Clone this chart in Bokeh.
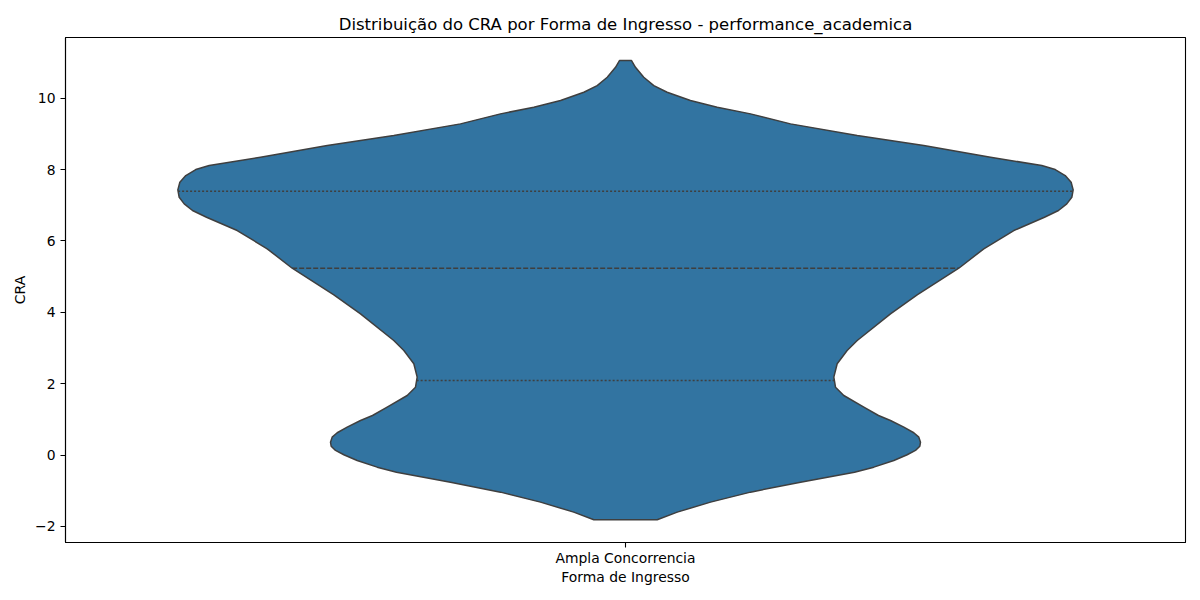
import numpy as np
from bokeh.plotting import figure
from bokeh.models import FixedTicker, Range1d
from bokeh.embed import file_html
from bokeh.resources import INLINE

# ---- data ----
categories = ["Ampla Concorrencia"]

# KDE profile of CRA: value on the y grid and the violin half-width at that value
cra_grid = [11.053, 10.866, 10.585, 10.353, 10.165, 9.933, 9.745, 9.560, 9.280,
            8.952, 8.672, 8.345, 8.112, 8.000, 7.832, 7.644, 7.431, 7.224, 7.039,
            6.852, 6.664, 6.291, 5.779, 5.235, 4.490, 3.958, 3.210, 2.930, 2.557,
            2.182, 1.902, 1.669, 1.342, 1.109, 0.969, 0.782, 0.625, 0.501, 0.361,
            0.249, 0.129, 0.008, -0.151, -0.339, -0.479, -0.759, -1.039, -1.319,
            -1.599, -1.812]
density_halfwidth = [0.0054, 0.0089, 0.0163, 0.0253, 0.0372, 0.0580, 0.0819, 0.1116,
                     0.1473, 0.2069, 0.2663, 0.3259, 0.3717, 0.3837, 0.3926, 0.3979,
                     0.3997, 0.3985, 0.3940, 0.3866, 0.3741, 0.3467, 0.3199, 0.2976,
                     0.2604, 0.2366, 0.2069, 0.1979, 0.1890, 0.1860, 0.1875, 0.1949,
                     0.2128, 0.2259, 0.2366, 0.2485, 0.2574, 0.2619, 0.2634, 0.2628,
                     0.2589, 0.2515, 0.2396, 0.2217, 0.2045, 0.1563, 0.1116, 0.0759,
                     0.0462, 0.0283]

quartiles = [2.09, 5.235, 7.39]   # Q1, median, Q3
y_ticks = [-2, 0, 2, 4, 6, 8, 10]

FONT = "DejaVu Sans"

p = figure(width=1200, height=600, output_backend="svg", toolbar_location=None,
           x_range=Range1d(-0.5, 0.5), y_range=Range1d(-2.45, 11.70),
           min_border_left=65, min_border_right=15, min_border_top=37, min_border_bottom=58,
           title="Distribuição do CRA por Forma de Ingresso - performance_academica")

p.title.text_font = FONT
p.title.text_font_size = "16.5px"
p.title.text_font_style = "normal"
p.title.text_color = "black"
p.title.align = "center"
p.title.standoff = 8

p.xgrid.visible = False
p.ygrid.visible = False
p.outline_line_color = "black"
p.outline_line_width = 1.1
p.background_fill_color = "white"
p.border_fill_color = "white"

# violin for each category
for i, cat in enumerate(categories):
    ys = np.array(cra_grid)
    hw = np.array(density_halfwidth)
    xs = np.concatenate([i + hw, (i - hw)[::-1]])
    yy = np.concatenate([ys, ys[::-1]])
    p.patch(xs, yy, fill_color="#3274a1", line_color="#3f3f3f", line_width=1.5,
            line_join="round")

    order = np.argsort(ys)
    for k, q in enumerate(quartiles):
        w = float(np.interp(q, ys[order], hw[order]))
        dash = "5 2" if k == 1 else "2 2"
        p.line([i - w, i + w], [q, q], line_color="#3f3f3f", line_width=1.5, line_dash=dash)

# axes
p.xaxis.ticker = FixedTicker(ticks=list(range(len(categories))))
p.xaxis.major_label_overrides = {i: c for i, c in enumerate(categories)}
p.yaxis.ticker = FixedTicker(ticks=y_ticks)
p.yaxis.major_label_overrides = {t: (str(t).replace("-", "\u2212")) for t in y_ticks}

p.xaxis.axis_label = "Forma de Ingresso"
p.yaxis.axis_label = "CRA"

for ax in (p.xaxis[0], p.yaxis[0]):
    ax.axis_line_color = "black"
    ax.axis_line_width = 1.1
    ax.major_tick_line_color = "black"
    ax.major_tick_line_width = 1.1
    ax.major_tick_out = 5
    ax.major_tick_in = 0
    ax.minor_tick_out = 0
    ax.minor_tick_in = 0
    ax.major_label_text_font = FONT
    ax.major_label_text_font_size = "13.9px"
    ax.major_label_text_color = "black"
    ax.axis_label_text_font = FONT
    ax.axis_label_text_font_size = "13.9px"
    ax.axis_label_text_font_style = "normal"
    ax.axis_label_text_color = "black"

p.xaxis.major_label_standoff = 2
p.xaxis.axis_label_standoff = 0
p.yaxis.major_label_standoff = 5
p.yaxis.axis_label_standoff = 4

open("out.html", "w").write(file_html(p, INLINE))
